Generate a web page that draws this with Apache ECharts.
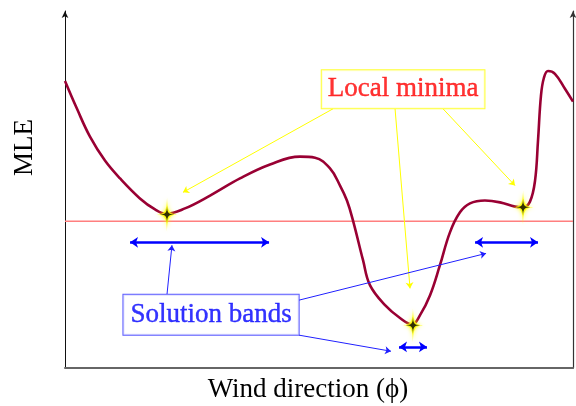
<!DOCTYPE html>
<html>
<head>
<meta charset="utf-8">
<script src="https://cdn.jsdelivr.net/npm/echarts@6/dist/echarts.min.js"></script>
<style>html,body{margin:0;padding:0;background:#fff}#c{width:576px;height:406px}</style>
</head>
<body>
<div id="c"></div>
<script>
// Curve (wind direction in degrees, MLE in arbitrary units)
const curveX = [0, 8.5, 17.7, 28.3, 39.0, 53.1, 63.8, 71.6, 85.0, 102.8, 124.0, 145.3, 166.5, 177.2, 187.8, 194.9, 199.8, 204.1, 211.2, 216.1, 226.8, 237.4, 246.0, 251.6, 258.7, 265.7, 272.8, 279.9, 287.0, 297.6, 308.3, 318.9, 324.6, 329.5, 333.1, 335.2, 337.3, 339.4, 342.3, 347.2, 354.3, 360];
const curveY = [8.04, 7.26, 6.48, 5.81, 5.31, 4.75, 4.44, 4.32, 4.47, 4.83, 5.31, 5.70, 5.92, 5.89, 5.59, 5.11, 4.69, 4.13, 3.02, 2.32, 1.76, 1.40, 1.22, 1.48, 2.04, 2.88, 3.80, 4.36, 4.61, 4.69, 4.64, 4.52, 4.50, 4.66, 5.25, 6.37, 7.63, 8.13, 8.32, 8.24, 7.82, 7.46];
const thresholdY = 4.11;
const minimaX = [72.3, 246.6, 324.6];
const minimaY = [4.30, 1.20, 4.50];
const bandStartX = [46.1, 236.7, 290.6];
const bandEndX = [144.6, 256.5, 335.2];
const bandY = [3.52, 0.59, 3.52];
// annotations
const minimaLabel = 'Local minima';
const minimaLabelPos = [239.6, 7.81];
const minimaArrowFrom = [[189.9, 7.26], [233.9, 7.26], [267.9, 7.26]];
const minimaArrowTo = [[83.6, 4.92], [244.5, 2.23], [318.9, 5.11]];
const bandsLabel = 'Solution bands';
const bandsLabelPos = [103.5, 1.49];
const bandsArrowFrom = [[72.3, 2.07], [165.8, 1.90], [165.8, 0.92]];
const bandsArrowTo = [[75.8, 3.44], [298.4, 3.21], [231.0, 0.47]];
const xName = 'Wind direction (ϕ)';
const yName = 'MLE';

const serif = 'Liberation Serif, Times New Roman, serif';
const star = 'path://M50,0 C52,40 60,48 100,50 C60,52 52,60 50,100 C48,60 40,52 0,50 C40,48 48,40 50,0 Z';

const chart = echarts.init(document.getElementById('c'));
const curve = curveX.map((x, i) => [x, curveY[i]]);
const minima = minimaX.map((x, i) => [x, minimaY[i]]);
const bands = bandStartX.map((x, i) => ({coords: [[x, bandY[i]], [bandEndX[i], bandY[i]]]}));
const yArrows = minimaArrowFrom.map((p, i) => ({coords: [p, minimaArrowTo[i]]}));
const bArrows = bandsArrowFrom.map((p, i) => ({coords: [p, bandsArrowTo[i]]}));

chart.setOption({
  animation: false,
  grid: {left: 65, right: 3, top: 11, bottom: 38, containLabel: false, outerBoundsMode: 'none'},
  xAxis: {
    type: 'value', min: 0, max: 360,
    name: xName, nameLocation: 'middle', nameGap: 8,
    nameTextStyle: {fontFamily: serif, fontSize: 27, color: '#000', padding: [0, 22, 0, 0]},
    axisLine: {onZero: false, lineStyle: {color: '#666', width: 2}},
    axisTick: {show: false}, axisLabel: {show: false}, splitLine: {show: false}
  },
  yAxis: [{
    type: 'value', min: 0, max: 10, position: 'left',
    name: yName, nameLocation: 'middle', nameGap: 27, nameRotate: 90,
    nameTextStyle: {fontFamily: serif, fontSize: 27, color: '#000', padding: [0, 0, 0, 84]},
    axisLine: {show: true, onZero: false, symbol: ['none', 'arrow'], symbolSize: [5, 7], lineStyle: {color: '#111', width: 1}},
    axisTick: {show: false}, axisLabel: {show: false}, splitLine: {show: false}
  }, {
    type: 'value', min: 0, max: 10, position: 'right',
    axisLine: {show: true, onZero: false, symbol: ['none', 'arrow'], symbolSize: [5, 7], lineStyle: {color: '#333', width: 1.2}},
    axisTick: {show: false}, axisLabel: {show: false}, splitLine: {show: false}
  }],
  series: [
    {type: 'line', data: [[0, thresholdY], [360, thresholdY]], symbol: 'none', silent: true,
     lineStyle: {color: '#ff7f7f', width: 1.5}, z: 2},
    {type: 'line', data: curve, symbol: 'none', smooth: 0.4, silent: true,
     lineStyle: {color: '#990033', width: 2.6}, z: 3},
    {type: 'lines', coordinateSystem: 'cartesian2d', data: yArrows, silent: true,
     symbol: ['none', 'arrow'], symbolSize: 6, lineStyle: {color: '#ffff00', width: 1, opacity: 1}, z: 4},
    {type: 'lines', coordinateSystem: 'cartesian2d', data: bArrows, silent: true,
     symbol: ['none', 'arrow'], symbolSize: 6, lineStyle: {color: '#2020ff', width: 1, opacity: 1}, z: 4},
    {type: 'lines', coordinateSystem: 'cartesian2d', data: bands, silent: true,
     symbol: ['arrow', 'arrow'], symbolSize: 8, lineStyle: {color: '#0000ff', width: 2.5, opacity: 1}, z: 4},
    {type: 'scatter', data: minima, symbol: star, symbolSize: [20, 34], silent: true,
     itemStyle: {color: '#ffff00', shadowColor: '#ffff00', shadowBlur: 4}, z: 5},
    {type: 'scatter', data: minima, symbol: star, symbolSize: [14, 17], silent: true,
     itemStyle: {color: '#000'}, z: 6},
    {type: 'scatter', data: [minimaLabelPos], symbolSize: 1, silent: true, itemStyle: {color: 'rgba(0,0,0,0)'}, z: 7,
     label: {show: true, position: 'inside', formatter: minimaLabel, fontFamily: serif, fontSize: 27, color: '#ff0000',
             textBorderColor: '#ff0000', textBorderWidth: 0.4, lineHeight: 28, padding: [5, 6, 5, 6], borderColor: '#ffff00', borderWidth: 1, backgroundColor: '#fff'}},
    {type: 'scatter', data: [bandsLabelPos], symbolSize: 1, silent: true, itemStyle: {color: 'rgba(0,0,0,0)'}, z: 7,
     label: {show: true, position: 'inside', formatter: bandsLabel, fontFamily: serif, fontSize: 27, color: '#0000ff',
             textBorderColor: '#0000ff', textBorderWidth: 0.4, lineHeight: 28, padding: [6, 7, 6, 7], borderColor: '#3333ff', borderWidth: 1, backgroundColor: '#fff'}}
  ]
});
</script>
</body>
</html>
